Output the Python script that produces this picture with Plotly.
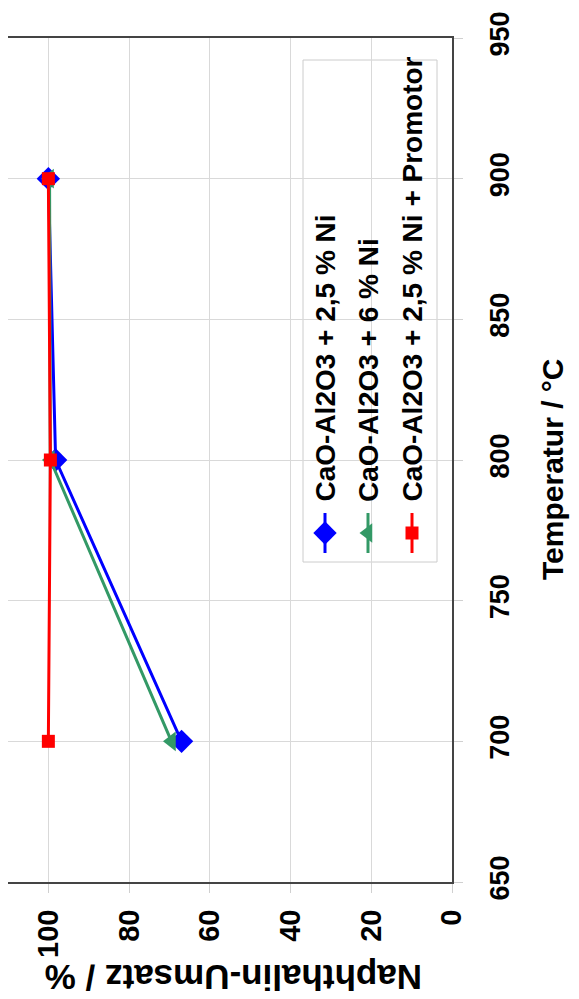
import plotly.graph_objects as go

# ---- data ----
temperatures = [700, 800, 900]
umsatz_ni25 = [67.0, 98.2, 100.0]
umsatz_ni6 = [69.5, 99.5, 99.7]
umsatz_ni25_prom = [100.0, 99.5, 100.0]
series_names = [
    "CaO-Al2O3 + 2,5 % Ni",
    "CaO-Al2O3 + 6 % Ni",
    "CaO-Al2O3 + 2,5 % Ni + Promotor",
]
umsatz_ticks = [0, 20, 40, 60, 80, 100]
temp_ticks = [650, 700, 750, 800, 850, 900, 950]
x_title = "Naphthalin-Umsatz / %"
y_title = "Temperatur / °C"

# ---- styling ----
OFF = 8  # page body margin
W, H = 579 - OFF, 999 - OFF
# plot area in window pixels
WL, WR, WT, WB = 8, 452, 38, 882
L, R, T, B = WL - OFF, WR - OFF, WT - OFF, WB - OFF
colors = ["#0000ff", "#339966", "#ff0000"]
symbols = ["diamond", "triangle-left", "square"]
msizes = [18, 17, 13]
FONT = "Liberation Sans, Arial, sans-serif"


def px2x(px):
    return (px - WL) / (WR - WL)


def py2y(py):
    return (WB - py) / (WB - WT)


fig = go.Figure()

series = [umsatz_ni25, umsatz_ni6, umsatz_ni25_prom]
for vals, name, c, s, ms in zip(series, series_names, colors, symbols, msizes):
    fig.add_trace(go.Scatter(
        x=vals, y=temperatures, mode="lines+markers", name=name,
        line=dict(color=c, width=3),
        marker=dict(color=c, symbol=s, size=ms, opacity=1, line=dict(width=0)),
        showlegend=False, xaxis="x", yaxis="y",
    ))

# ---- manual rotated legend ----
leg_x = [325, 368, 412]
leg_y_mid = 533
for i, (name, c, s, ms) in enumerate(zip(series_names, colors, symbols, msizes)):
    xx = px2x(leg_x[i])
    fig.add_trace(go.Scatter(
        x=[xx, xx], y=[py2y(513), py2y(553)], mode="lines",
        line=dict(color=c, width=3),
        showlegend=False, xaxis="x2", yaxis="y2", hoverinfo="skip",
    ))
    fig.add_trace(go.Scatter(
        x=[xx], y=[py2y(leg_y_mid)], mode="markers",
        marker=dict(color=c, symbol=s, size=ms, opacity=1, line=dict(width=0)),
        showlegend=False, xaxis="x2", yaxis="y2", hoverinfo="skip",
    ))
    fig.add_annotation(
        x=xx, y=py2y(504), xref="paper", yref="paper",
        text="<b>" + name + "</b>", textangle=-90, showarrow=False,
        xanchor="center", yanchor="bottom",
        font=dict(family=FONT, size=28, color="black"),
    )

fig.add_shape(
    type="rect", xref="paper", yref="paper",
    x0=px2x(303), x1=px2x(437), y0=py2y(562), y1=py2y(60),
    line=dict(color="#cccccc", width=1), fillcolor="white", layer="between",
)

# axis titles
fig.add_annotation(
    x=px2x(553), y=py2y(470), xref="paper", yref="paper",
    text="<b>" + y_title + "</b>", textangle=-90, showarrow=False,
    xanchor="center", yanchor="middle",
    font=dict(family=FONT, size=30, color="black"),
)
fig.add_annotation(
    x=px2x(234), y=py2y(978), xref="paper", yref="paper",
    text="<b>" + x_title + "</b>", textangle=180, showarrow=False,
    xanchor="center", yanchor="middle", borderpad=0,
    font=dict(family=FONT, size=35, color="black"),
)

fig.update_layout(
    width=W, height=H,
    margin=dict(l=L, r=W - R, t=T, b=H - B, pad=0, autoexpand=False),
    paper_bgcolor="white", plot_bgcolor="white",
    showlegend=False,
    xaxis=dict(
        range=[110, 0], tickvals=umsatz_ticks, tickangle=-90,
        showgrid=True, gridcolor="#d9d9d9", gridwidth=1,
        showline=True, linecolor="#444444", linewidth=2, mirror=True,
        ticks="outside", ticklen=9, tickcolor="#d0d0d0", tickwidth=1,
        ticklabelstandoff=5,
        tickfont=dict(family=FONT, size=29, color="black", weight="bold"),
        zeroline=False,
    ),
    yaxis=dict(
        range=[650, 950], tickvals=temp_ticks, side="right", tickangle=-90,
        showgrid=True, gridcolor="#d9d9d9", gridwidth=1,
        showline=True, linecolor="#444444", linewidth=2, mirror=True,
        ticks="outside", ticklen=9, tickcolor="#d0d0d0", tickwidth=1,
        ticklabelstandoff=14,
        tickfont=dict(family=FONT, size=27, color="black", weight="bold"),
        zeroline=False,
    ),
    xaxis2=dict(range=[0, 1], overlaying="x", anchor="y2", visible=False),
    yaxis2=dict(range=[0, 1], overlaying="y", anchor="x2", visible=False),
)

fig.write_html("out.html")
